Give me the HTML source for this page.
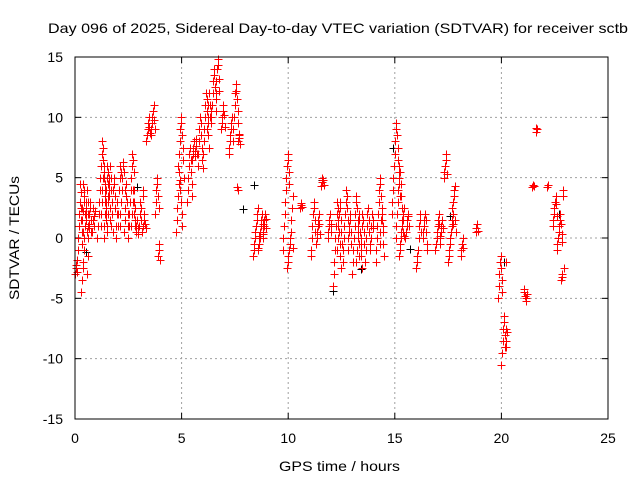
<!DOCTYPE html>
<html><head><meta charset="utf-8"><style>
body{margin:0;background:#fff}
svg text{font-family:"Liberation Sans",sans-serif;font-size:14px;fill:#000}
</style></head><body>
<svg id="chart" width="640" height="480" viewBox="0 0 640 480" xmlns="http://www.w3.org/2000/svg">
<rect width="640" height="480" fill="#fff"/>
<text x="48" y="33" textLength="580" lengthAdjust="spacingAndGlyphs">Day 096 of 2025, Sidereal Day-to-day VTEC variation (SDTVAR) for receiver sctb</text>
<text transform="translate(19,238) rotate(-90)" x="-62" y="0" textLength="124" lengthAdjust="spacingAndGlyphs">SDTVAR / TECUs</text>
<text x="279" y="471" textLength="121" lengthAdjust="spacingAndGlyphs">GPS time / hours</text>
<g id="grid"></g><g id="ticks"></g><g id="marks-black"></g><g id="marks-red"></g>
<rect x="75" y="57" width="533" height="362" fill="none" stroke="#000" stroke-width="1"/>
</svg>
<script>
const xTicks=[0,5,10,15,20,25];
const yTicks=[-15,-10,-5,0,5,10,15];
// clusters: start time (h) and successive values (step 0.028 h)
const clusterStart=[0.0,0.12,0.2,0.3,0.45,0.6,0.8,1.05,1.2,1.35,1.5,1.7,1.9,2.1,2.3,2.5,2.65,2.85,3.0,3.2,3.35,3.55,3.75,3.9,4.75,4.85,5.25,5.5,5.75,6.0,6.2,6.4,6.6,6.85,7.2,7.4,7.6,8.35,8.6,8.8,9.75,9.95,10.55,11.05,11.3,11.55,11.85,12.1,12.3,12.55,12.8,13.0,13.2,13.4,13.6,13.85,14.1,14.3,14.85,15.05,15.2,15.5,16.0,16.3,16.9,17.1,17.3,17.5,17.7,18.1,18.8,19.85,20.0,20.15,21.05,21.45,21.6,22.15,22.4,22.6,22.8];
const clusterValues=[
[-3,-2.5,-2.2,-1.8,-2.8],
[-1,0,1,2,3,2.5,1.5,0.5,-0.5,4.5,4,3.5],
[2,3,4.5,3.8,2.5,1.5,0.5,2.2,3,1],
[-4.5,-3.5,-2.5,-2,-1,0,1,2,3,4,-3,-1.5],
[1,2,2.5,1.5,0.5,3,2,1.2,0.8],
[0,1,2,3,2.5,1.5,0.5],
[0.5,1.5,2.5,1.8,1,2.2],
[0,1,2,3,4,5,6,7,8,7.5,6.5,5.5,4.5,3.5,2.5,1.5],
[1,2,3,4,5,6,5,4,3,2,1,0.5,3.5,4.5],
[0,1,2,3,4,5,6,5.5,4.5,3.5,2.5,1.5],
[1,2,3,4,5,6,5,4,3,2,0.5],
[1,2,3,4,5,4.5,3.5,2.5],
[0,1,2,3,2,1,4,5,6,5.5],
[1,2,3,4,5,6,6.3,5.5,4,2.5],
[0.5,1.5,2.5,3.5,4.5,3,2,1],
[0,1,2,3,4,5,6,7,6.5,5.5,4,2.5,1],
[1,2,3,4,3,2,1.5],
[0.5,1,1.5,0.8,0.3],
[1,2,3,2.5,1.5,0.5,4,3.5],
[1,1.5,2,1.2,0.8],
[8,8.5,9,9.5,10,9.2,8.7],
[8.5,9,9.5,10,10.5,11,9.8,9],
[2,3,4,4.5,5,3.5,2.5],
[-1.5,-1,-0.5,-1.8],
[0.5,1.5,2.5,3.5,4.5,5.5,4.8,4,3,2,1],
[6,7,8,9,10,9.5,8.5,7.5,6.5,5],
[3,4,5,6,7,7.5,6.5,5.5,4.5,3.5],
[6.5,7,7.5,8,7.2,6.8,7.6,8.2,7],
[6,7,8,9,10,9.5,8.5,7.5,6.5,5.8],
[7,8,9,10,11,12,11.5,10.5,9.5,8.5,7.5],
[9,10,11,12,11,10,9.5,10.5],
[10,11,12,13,14,13.5,12.5,11.5,10.5],
[12,13,14,14.8,14.3,13.2,12.2],
[9,9.5,10,10.5,11,10.2,9.2],
[7,7.5,8,8.5,9,9.5,10,9,8],
[8,9,10,11,12,12.8,12.2,11.5,10.5,9.5,8.5],
[4.2,4,8,8.3,8.6,7.8],
[-1.5,-1,-0.5,0,0.5,1,1.5,2,2.5,-0.8,0.2],
[-1,-0.5,0,0.5,1,1.5,2,1.2,0.3],
[0,0.5,1,1.5,2,1.6,0.8],
[-1,0,1,2,3,4,5,6,7,6.5,5.5,4.5],
[-2.5,-2,-1.5,-1,-0.5,0,0.5,1.5,2.5,3.5,-0.8],
[2.5,2.7,2.9,2.6],
[-1.5,-1,0,1,2,3,2.5,1.5,0.5],
[-0.5,0,0.5,1,1.5,2,1.2,0.3],
[4.3,4.6,5,4.8,4.4],
[0,0.5,1,1.5,2,1.2,0.5],
[-4,-3,-2,-1,0,1,2,3,2.5,1.5,0.5,-0.5,-1.5,-2.5],
[-1,0,1,2,3,2.5,1.5,0.5,-0.5],
[-2,-1,0,1,2,3,4,3.5,2.5,1.5,0.5],
[-1,0,1,2,1.5,0.5,-0.5],
[-3,-2,-1,0,1,2,3,3.5,2.5,1.5,0.5,-0.5,-1.5],
[-2,-1,0,1,2,1.5,0.5,-0.5,-1.5,-2.5],
[-1,0,1,2,1.5,0.5,-0.5,-2],
[-2,-1,0,1,2,2.5,1.5,0.5,-0.5],
[-1,0,1,2,1.5,0.8],
[-2,-1,0,1,2,3,4,5,4.5,3.5,2.5,1.5,0.5,-0.5,-1.5],
[-0.5,0.5,1.5,2.5,2,1],
[2,3,4,5,6,7,8,9,9.5,8.5,7.5,6.5,5.5,4.5,3.5],
[0,1,2,3,4,5,6,5.5,4.5,3.5,2.5,1.5,0.5],
[-1.5,-1,-0.5,0,0.5,1,1.5,2,2.5,0.2],
[0,0.5,1,1.5,2,1.8,1],
[-2.5,-2,-1.5,-1,0,1,2,1.5,0.5],
[0,0.5,1,1.5,2,1.5,0.5,-0.5,-1],
[-1,-0.5,0,0.5,1,1.5,2,1.2,0.2],
[-0.5,0,0.5,1,1.5,0.8],
[5,5.5,6,6.5,7,5.3],
[-2,-1.5,-1,-0.5,0,0.5,1,1.5,2,1.2],
[2.5,3,3.5,4,4.3,1.5,0.5],
[-1.5,-1,-0.5,0,-0.8],
[0.5,0.8,1.2,0.6],
[-5,-4,-3,-2,-1.5,-2.5,-3.5,-4.5],
[-10.5,-9.5,-8.5,-7.5,-6.5,-7,-8,-9,-2],
[-9,-8,-7.5,-8.5,-7.8],
[-4.2,-4.5,-4.8,-5,-5.2,-4.6],
[4.2,4.4,4.3],
[8.8,9.1,9],
[4.2,4.4],
[1,1.5,2,2.5,3,3.5,2.8,1.8],
[-1,-0.5,0,0.5,1,1.5,2,1.2,0.3,-0.3],
[-3.5,-3.2,-3,4,3.5,-2.5]
];
// black series (second receiver pass), mostly hidden beneath red
const blackT=[0.5,1.7,2.9,7.9,8.4,11.6,12.1,13.4,14.9,15.7,17.6,20.1,22.7];
const blackV=[-1.2,5,4.2,2.4,4.4,4.8,-4.4,-2.6,7.5,-0.9,1.8,-2,2];

const X0=75,X1=608,Y0=419,Y1=57;
const xs=t=>X0+(t-0)/(25-0)*(X1-X0);
const ys=v=>Y0-(v+15)/30*(Y0-Y1);
const NS="http://www.w3.org/2000/svg";
const grid=document.getElementById('grid'),ticks=document.getElementById('ticks');
function el(tag,attrs,parent){const e=document.createElementNS(NS,tag);for(const k in attrs)e.setAttribute(k,attrs[k]);parent.appendChild(e);return e;}
xTicks.forEach(t=>{
  const x=xs(t);
  if(t>0&&t<25){const g=el('line',{x1:x,x2:x,y1:Y0,y2:Y1,stroke:'#a0a0a0','stroke-dasharray':'2,3'},grid);
  
  }
  el('line',{x1:x,x2:x,y1:Y0,y2:Y0-6,stroke:'#000'},ticks);
  el('line',{x1:x,x2:x,y1:Y1,y2:Y1+6,stroke:'#000'},ticks);
  const tx=el('text',{x:x,y:443,'text-anchor':'middle'},ticks);tx.textContent=t;
  
  
});
yTicks.forEach(v=>{
  const y=ys(v);
  if(v>-15&&v<15){const g=el('line',{x1:X0,x2:X1,y1:y,y2:y,stroke:'#a0a0a0','stroke-dasharray':'2,3'},grid);
  
  }
  el('line',{x1:X0,x2:X0+6,y1:y,y2:y,stroke:'#000'},ticks);
  el('line',{x1:X1,x2:X1-6,y1:y,y2:y,stroke:'#000'},ticks);
  const tx=el('text',{x:63,y:y+5,'text-anchor':'end'},ticks);tx.textContent=v;
  
  
});
function plus(t,v,color,parent,name){
  const x=Math.round(xs(t))+0.5,y=Math.round(ys(v))+0.5;
  const p=el('path',{d:`M${x-4},${y}H${x+4}M${x},${y-4}V${y+4}`,stroke:color,'stroke-width':1,fill:'none'},parent);
  
  
}
const gb=document.getElementById('marks-black'),gr=document.getElementById('marks-red');
blackT.forEach((t,i)=>plus(t,blackV[i],'#000',gb,'black-point'));
clusterStart.forEach((t0,c)=>clusterValues[c].forEach((v,i)=>plus(t0+i*0.028,v,'#ff0000',gr,'red-point')));
</script>
</body></html>
